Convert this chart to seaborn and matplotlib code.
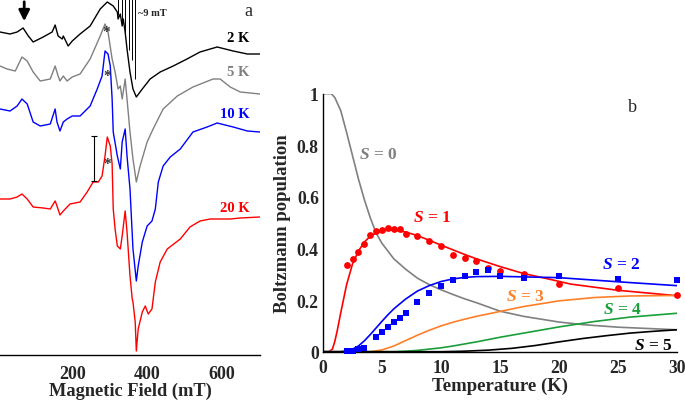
import matplotlib
matplotlib.use("Agg")
import matplotlib.pyplot as plt
import seaborn as sns

# --- EPR spectra (panel a), field in mT, signal in a.u. incl. vertical offset ---
field_2K = [5, 32, 51, 67, 81, 94, 121, 145, 153, 161, 172, 175, 188, 199, 220, 247, 274, 293, 309, 320,
            322, 328, 333, 336, 341, 346, 354, 362, 371, 387, 408, 435, 470, 507, 542, 588, 631, 669, 703]
sig_2K = [323, 321, 323, 327, 319, 313, 318, 323, 330, 319, 316, 319, 309, 314, 321, 329, 346, 353, 349, 343,
          336, 341, 329, 336, 323, 306, 283, 266, 258, 266, 276, 283, 289, 296, 303, 308, 304, 301, 301]

field_5K = [5, 24, 46, 64, 78, 94, 113, 140, 153, 161, 166, 175, 185, 199, 220, 247, 274, 287, 295, 306,
            314, 322, 328, 333, 341, 346, 354, 362, 371, 381, 400, 416, 443, 481, 523, 577, 596, 623, 650, 703]
sig_5K = [289, 286, 284, 298, 294, 283, 274, 276, 289, 279, 274, 279, 274, 278, 281, 296, 319, 331, 323, 296,
          283, 266, 269, 256, 276, 256, 223, 196, 173, 189, 213, 226, 246, 259, 268, 276, 276, 268, 263, 261]

field_10K = [5, 32, 51, 64, 78, 94, 113, 140, 153, 158, 166, 175, 185, 199, 220, 247, 266, 279, 287, 295,
             301, 306, 309, 320, 328, 333, 341, 346, 354, 362, 371, 376, 387, 400, 413, 422, 430, 443, 462, 489,
             523, 561, 588, 631, 669, 703]
sig_10K = [246, 244, 249, 256, 251, 233, 229, 231, 246, 233, 224, 233, 236, 239, 239, 249, 266, 279, 304, 301,
           289, 256, 223, 199, 186, 213, 226, 199, 166, 106, 74, 89, 113, 129, 134, 146, 173, 189, 198, 206,
           223, 228, 232, 228, 224, 223]

field_20K = [5, 32, 51, 64, 78, 94, 121, 140, 153, 158, 166, 175, 193, 220, 239, 255, 269, 279, 287, 293,
             301, 306, 309, 314, 320, 328, 333, 341, 346, 354, 360, 362, 368, 371, 376, 387, 395, 403, 413, 422,
             435, 454, 489, 515, 542, 569, 623, 650, 703]
sig_20K = [156, 156, 158, 161, 156, 148, 147, 146, 154, 149, 140, 144, 151, 153, 163, 173, 173, 179, 199, 218,
           209, 191, 146, 126, 109, 106, 119, 144, 123, 79, 56, 53, 33, 4, 26, 43, 49, 41, 46, 73,
           93, 106, 116, 128, 134, 136, 136, 137, 138]

spec_labels = ["2 K", "5 K", "10 K", "20 K"]
spec_colors = ["black", "#808080", "#0000ff", "#ff0000"]
label_pos = [(644, 318), (644, 283), (636, 241), (636, 147)]

# hyperfine stick pattern (~9 mT spacing)
stick_field = [323, 332, 341, 350, 359, 368]
stick_bottom = [340, 330, 318, 305, 295, 276]

# --- Boltzmann populations (panel b) ---
T_S0 = [0, 0.7, 1.0, 1.5, 2.0, 2.5, 3.0, 3.5, 4.0, 4.5, 5.0, 6.0, 7.0, 8.0, 9.0, 10, 11, 12, 13, 15, 17, 20, 22, 25, 30]
P_S0 = [1.0, 1.0, 0.985, 0.935, 0.85, 0.76, 0.67, 0.59, 0.52, 0.46, 0.42, 0.36, 0.32, 0.285, 0.26, 0.24, 0.222,
        0.205, 0.19, 0.157, 0.137, 0.115, 0.105, 0.095, 0.085]
T_S1 = [0, 0.5, 0.8, 1.0, 1.2, 1.5, 2.0, 2.5, 3.0, 3.5, 4.0, 4.5, 5.0, 5.5, 6.0, 7.0, 8.0, 9.0, 10, 11, 12, 13,
        15, 17, 19, 21, 25, 30]
P_S1 = [0, 0, 0.01, 0.04, 0.08, 0.15, 0.26, 0.34, 0.39, 0.425, 0.447, 0.46, 0.468, 0.471, 0.471, 0.464, 0.45,
        0.432, 0.413, 0.395, 0.377, 0.36, 0.33, 0.303, 0.283, 0.262, 0.238, 0.217]
T_S2 = [0, 1.5, 2.0, 2.5, 3.0, 3.5, 4.0, 4.5, 5.0, 5.5, 6.0, 7.0, 8.0, 9.0, 10, 11, 12, 13, 15, 17, 20, 25, 30]
P_S2 = [0, 0, 0.003, 0.01, 0.022, 0.042, 0.066, 0.092, 0.118, 0.143, 0.166, 0.204, 0.235, 0.256, 0.272, 0.282,
        0.288, 0.291, 0.292, 0.29, 0.287, 0.271, 0.256]
T_S3 = [0, 4, 5, 6, 7, 8, 9, 10, 11, 12, 13, 15, 17, 20, 23, 26, 30]
P_S3 = [0, 0, 0.007, 0.022, 0.043, 0.064, 0.083, 0.1, 0.114, 0.126, 0.137, 0.156, 0.175, 0.197, 0.21, 0.216, 0.218]
T_S4 = [0, 6, 7, 8, 9, 10, 11, 12, 13, 15, 17, 20, 23, 26, 30]
P_S4 = [0, 0, 0.002, 0.005, 0.01, 0.015, 0.022, 0.03, 0.038, 0.056, 0.072, 0.096, 0.117, 0.134, 0.149]
T_S5 = [0, 10, 12, 14, 16, 18, 20, 22, 24, 26, 28, 30]
P_S5 = [0, 0, 0.002, 0.006, 0.013, 0.024, 0.038, 0.051, 0.062, 0.072, 0.079, 0.085]

# experimental points
T_exp1 = [2, 2.5, 3, 3.5, 4, 4.5, 5, 5.5, 6, 6.5, 7, 8, 9, 10, 11, 12, 13, 14, 15, 17, 20, 25, 30]
P_exp1 = [0.336, 0.359, 0.388, 0.417, 0.452, 0.466, 0.473, 0.478, 0.476, 0.476, 0.456, 0.447, 0.43, 0.408,
          0.375, 0.362, 0.351, 0.325, 0.314, 0.301, 0.262, 0.246, 0.22]
T_exp2 = [2, 2.5, 3, 3.5, 4.5, 5, 5.5, 6, 6.5, 7, 8, 9, 10, 11, 12, 13, 14, 15, 17, 20, 25, 30]
P_exp2 = [0.004, 0.004, 0.01, 0.016, 0.056, 0.078, 0.097, 0.114, 0.129, 0.15, 0.191, 0.227, 0.256, 0.279,
          0.292, 0.308, 0.317, 0.292, 0.286, 0.295, 0.282, 0.279]

S_colors = ["#808080", "#ff0000", "#0000ff", "#ff7f27", "#1a9e3a", "black"]
S_label_pos = [(4.66, 0.766), (9.24, 0.522), (25.3, 0.34), (17.1, 0.216), (25.4, 0.166), (28.0, 0.025)]

sns.set_theme(style="white")
plt.rcParams['font.family'] = ['Liberation Serif', 'DejaVu Serif']
plt.rcParams['font.weight'] = 'bold'
plt.rcParams['mathtext.fontset'] = 'custom'
plt.rcParams['mathtext.it'] = 'Liberation Serif:italic:bold'
plt.rcParams['mathtext.rm'] = 'Liberation Serif:bold'

fig = plt.figure(figsize=(6.85, 4.02), dpi=100)

# ---------------- panel a ----------------
axL = fig.add_axes([0 / 685, 1 - 356 / 402, 260 / 685, 356 / 402])
spectra = [(field_2K, sig_2K), (field_5K, sig_5K), (field_10K, sig_10K), (field_20K, sig_20K)]
for (fx, fy), col in zip(spectra, spec_colors):
    sns.lineplot(x=fx, y=fy, ax=axL, color=col, lw=1.0, estimator=None, sort=False)
for lab, col, (bx, by) in zip(spec_labels, spec_colors, label_pos):
    axL.text(bx, by, lab, color=col, fontsize=10.5, fontweight='bold', ha='center', va='center')

axL.vlines(stick_field, stick_bottom, 356, color='black', lw=0.7)
axL.hlines(356, stick_field[0], stick_field[-1], color='black', lw=0.7)
axL.text(375, 342, "~9 mT", fontsize=7.5, fontweight='bold', ha='left', va='center')

for ax_, ay_ in [(289, 323), (292, 279), (292, 191)]:
    axL.text(ax_, ay_, "*", fontsize=11, fontweight='bold', color='#333333', ha='center', va='center')

axL.errorbar([258], [196.5], yerr=[22.5], color='black', lw=0.8, capsize=2.5, capthick=0.8)
axL.annotate('', xy=(70, 331), xytext=(70, 356),
             arrowprops=dict(arrowstyle='-|>', color='black', lw=2.0, mutation_scale=16),
             annotation_clip=False)

axL.set_xlim(5, 703)
axL.set_ylim(0, 356)
for s in ['top', 'right', 'left']:
    axL.spines[s].set_visible(False)
axL.spines['bottom'].set_color('black')
axL.spines['bottom'].set_linewidth(1.0)
axL.set_xticks([200, 400, 600])
axL.set_yticks([])
axL.tick_params(axis='x', direction='out', length=4, width=1, color='black', labelsize=13, pad=3)
axL.set_xlabel("Magnetic Field (mT)", fontsize=13.2, fontweight='bold', labelpad=0)
for t in axL.get_xticklabels():
    t.set_fontweight('bold')

# ---------------- panel b ----------------
axR = fig.add_axes([323 / 685, 1 - 352.7 / 402, 354 / 685, 258 / 402])
lines = [(T_S0, P_S0), (T_S1, P_S1), (T_S2, P_S2), (T_S3, P_S3), (T_S4, P_S4), (T_S5, P_S5)]
for (tx, py), col in zip(lines, S_colors):
    sns.lineplot(x=tx, y=py, ax=axR, color=col, lw=1.2, estimator=None, sort=False)

sns.scatterplot(x=T_exp1, y=P_exp1, ax=axR, color='#ff0000', marker='o', s=24, linewidth=0, clip_on=False, zorder=5)
sns.scatterplot(x=T_exp2, y=P_exp2, ax=axR, color='#0000ff', marker='s', s=24, linewidth=0, clip_on=False, zorder=5)

for i, (col, (sx, sy)) in enumerate(zip(S_colors, S_label_pos)):
    axR.text(sx, sy, r"$S$ = %d" % i, color=col, fontsize=12.5, fontweight='bold', ha='center', va='center')

axR.set_xlim(0, 30)
axR.set_ylim(0, 1)
for s in ['top', 'right']:
    axR.spines[s].set_visible(False)
for s in ['left', 'bottom']:
    axR.spines[s].set_color('black')
    axR.spines[s].set_linewidth(1.0)
axR.set_xticks([0, 5, 10, 15, 20, 25, 30])
axR.set_xticklabels(['0', '5', '10', '15', '20', '25', '30'])
axR.set_yticks([0, 0.2, 0.4, 0.6, 0.8, 1.0])
axR.set_yticklabels(['0', '0.2', '0.4', '0.6', '0.8', '1'])
axR.tick_params(direction='in', length=5, width=1, color='black', labelsize=12.7)
axR.tick_params(axis='x', pad=5)
axR.tick_params(axis='y', pad=3)
for t in axR.get_xticklabels() + axR.get_yticklabels():
    t.set_fontweight('bold')
axR.set_xlabel("Temperature (K)", fontsize=13.5, fontweight='bold', labelpad=1)
axR.set_ylabel("Boltzmann population", fontsize=13.5, fontweight='bold', labelpad=4)

fig.text(248 / 685, 1 - 12 / 402, "a", fontsize=13, fontweight='normal', ha='center', va='center')
fig.text(632 / 685, 1 - 107 / 402, "b", fontsize=13, fontweight='normal', ha='center', va='center')

fig.savefig("out.png", dpi=100)
